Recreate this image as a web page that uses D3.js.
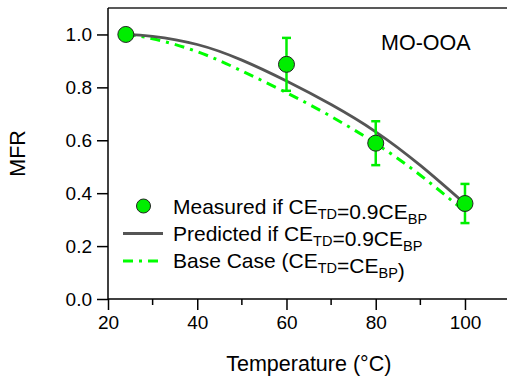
<!DOCTYPE html>
<html>
<head>
<meta charset="utf-8">
<script src="https://cdn.jsdelivr.net/npm/d3@7"></script>
<style>
  body { margin: 0; background: #fff; }
  text { font-family: "Liberation Sans", Arial, sans-serif; fill: #000; }
</style>
</head>
<body>
<div id="chart"></div>
<script>
// data
var measuredT = [24, 60, 80, 100];
var measuredMFR = [1.0, 0.887, 0.589, 0.361];
var measuredErr = [0, 0.1, 0.083, 0.074];

var curveT = [24, 30, 40, 50, 60, 70, 80, 90, 100];
var predictedMFR = [1.0, 0.993, 0.962, 0.903, 0.824, 0.735, 0.632, 0.505, 0.36];
var baseMFR = [1.0, 0.984, 0.935, 0.862, 0.78, 0.69, 0.588, 0.468, 0.33];

var xTicks = [20, 40, 60, 80, 100];
var xMinor = [30, 50, 70, 90];
var yTicks = [0.0, 0.2, 0.4, 0.6, 0.8, 1.0];

var width = 507, height = 383;
var plotLeft = 108, plotTop = 8, plotBottom = 299, plotRight = 509.6;

var svg = d3.select("#chart").append("svg")
  .attr("width", width)
  .attr("height", height);

var x = d3.scaleLinear().domain([20, 110]).range([plotLeft, plotRight]);
var y = d3.scaleLinear().domain([0, 1.1]).range([plotBottom, plotTop]);

// top frame line
svg.append("line")
  .attr("x1", plotLeft).attr("x2", width + 2)
  .attr("y1", plotTop).attr("y2", plotTop)
  .attr("stroke", "#222").attr("stroke-width", 1.5);

// x axis
var xAxis = svg.append("g")
  .attr("transform", "translate(0," + plotBottom + ")")
  .call(d3.axisBottom(x).tickValues(xTicks).tickSize(11).tickPadding(6).tickFormat(d3.format("d")));
xAxis.append("g").selectAll("line").data(xMinor).join("line")
  .attr("x1", function(d) { return x(d); }).attr("x2", function(d) { return x(d); })
  .attr("y1", 0).attr("y2", 6).attr("stroke", "#000").attr("stroke-width", 1.5);

// y axis
var yAxis = svg.append("g")
  .attr("transform", "translate(" + plotLeft + ",0)")
  .call(d3.axisLeft(y).tickValues(yTicks).tickSize(11).tickPadding(5).tickFormat(d3.format(".1f")));

[xAxis, yAxis].forEach(function(g) {
  g.select(".domain").attr("stroke", "#000").attr("stroke-width", 1.5);
  g.selectAll(".tick line").attr("stroke", "#000").attr("stroke-width", 1.5);
  g.selectAll(".tick text").attr("font-size", 19).attr("font-family", "Liberation Sans, Arial, sans-serif").attr("fill", "#000");
});
xAxis.select(".domain").attr("d", "M" + plotLeft + ",0H" + (width + 2));
yAxis.select(".domain").attr("d", "M0," + plotBottom + "V" + plotTop);

// axis titles
svg.append("text")
  .attr("x", (plotLeft + plotRight) / 2).attr("y", 371)
  .attr("text-anchor", "middle").attr("font-size", 21.5)
  .text("Temperature (°C)");
svg.append("text")
  .attr("transform", "translate(25," + (plotTop + plotBottom) / 2 + ")rotate(-90)")
  .attr("text-anchor", "middle").attr("font-size", 21.5)
  .text("MFR");

// panel label
svg.append("text")
  .attr("x", 381).attr("y", 50).attr("font-size", 21.5)
  .text("MO-OOA");

var line = d3.line().curve(d3.curveNatural);

// base case dash-dot
svg.append("path")
  .attr("d", line(curveT.map(function(t, i) { return [x(t), y(baseMFR[i])]; })))
  .attr("fill", "none").attr("stroke", "#00ff00").attr("stroke-width", 3)
  .attr("stroke-dasharray", "10,6,3,6");

// predicted
svg.append("path")
  .attr("d", line(curveT.map(function(t, i) { return [x(t), y(predictedMFR[i])]; })))
  .attr("fill", "none").attr("stroke", "#555").attr("stroke-width", 2.8);

// error bars
var eb = svg.append("g").attr("stroke", "#00ee00").attr("stroke-width", 2.5);
measuredT.forEach(function(t, i) {
  if (!measuredErr[i]) return;
  var cx = x(t), y0 = y(measuredMFR[i] - measuredErr[i]), y1 = y(measuredMFR[i] + measuredErr[i]);
  eb.append("line").attr("x1", cx).attr("x2", cx).attr("y1", y0).attr("y2", y1);
  eb.append("line").attr("x1", cx - 4.5).attr("x2", cx + 4.5).attr("y1", y0).attr("y2", y0);
  eb.append("line").attr("x1", cx - 4.5).attr("x2", cx + 4.5).attr("y1", y1).attr("y2", y1);
});

// measured points
svg.append("g").selectAll("circle").data(measuredT).join("circle")
  .attr("cx", function(d) { return x(d); })
  .attr("cy", function(d, i) { return y(measuredMFR[i]); })
  .attr("r", 8)
  .attr("fill", "#00ee00").attr("stroke", "#222").attr("stroke-width", 1);

// legend
var legend = svg.append("g");
legend.append("circle").attr("cx", 143.5).attr("cy", 206).attr("r", 7)
  .attr("fill", "#00ee00").attr("stroke", "#222").attr("stroke-width", 1);
legend.append("line").attr("x1", 123).attr("x2", 163).attr("y1", 233.5).attr("y2", 233.5)
  .attr("stroke", "#555").attr("stroke-width", 2.8);
legend.append("line").attr("x1", 123).attr("x2", 163).attr("y1", 261).attr("y2", 261)
  .attr("stroke", "#00ff00").attr("stroke-width", 3).attr("stroke-dasharray", "10,6,3,6");

function subText(yPos, parts) {
  var t = legend.append("text").attr("x", 173).attr("y", yPos).attr("font-size", 21);
  parts.forEach(function(p) {
    if (p.sub) {
      t.append("tspan").attr("font-size", 14.5).attr("dy", 5).text(p.sub);
      t.append("tspan").attr("dy", -5).text("");
    } else {
      t.append("tspan").text(p.s);
    }
  });
}
subText(213.5, [{s: "Measured if CE"}, {sub: "TD"}, {s: "=0.9CE"}, {sub: "BP"}]);
subText(240.5, [{s: "Predicted if CE"}, {sub: "TD"}, {s: "=0.9CE"}, {sub: "BP"}]);
subText(268, [{s: "Base Case (CE"}, {sub: "TD"}, {s: "=CE"}, {sub: "BP"}, {s: ")"}]);
</script>
</body>
</html>
